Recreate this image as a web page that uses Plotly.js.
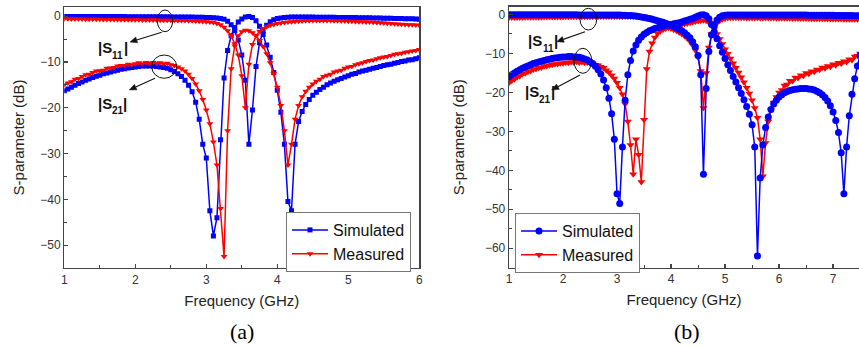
<!DOCTYPE html>
<html>
<head>
<meta charset="utf-8">
<script src="https://cdn.plot.ly/plotly-3.0.1.min.js"></script>
<style>html,body{margin:0;padding:0;background:#fff;overflow:hidden}#chart{width:859px;height:347px}</style>
</head>
<body>
<div id="chart"></div>
<script>
// ---------- Panel (a) data ----------
const freqA = [1,1.05,1.1,1.15,1.2,1.25,1.3,1.35,1.4,1.45,
1.5,1.55,1.6,1.65,1.7,1.75,1.8,1.85,1.9,1.95,
2,2.05,2.1,2.15,2.2,2.25,2.3,2.35,2.4,2.45,
2.5,2.55,2.6,2.65,2.7,2.75,2.8,2.85,2.9,2.95,
3,3.05,3.1,3.15,3.2,3.25,3.3,3.35,3.4,3.45,
3.5,3.55,3.6,3.65,3.7,3.75,3.8,3.85,3.9,3.95,
4,4.05,4.1,4.15,4.2,4.25,4.3,4.35,4.4,4.45,
4.5,4.55,4.6,4.65,4.7,4.75,4.8,4.85,4.9,4.95,
5,5.05,5.1,5.15,5.2,5.25,5.3,5.35,5.4,5.45,
5.5,5.55,5.6,5.65,5.7,5.75,5.8,5.85,5.9,5.95,
6];
const s11SimA = [-0.05,-0.05,-0.05,-0.06,-0.06,-0.06,-0.07,-0.07,-0.07,-0.08,
-0.08,-0.08,-0.09,-0.09,-0.09,-0.1,-0.1,-0.1,-0.11,-0.11,
-0.11,-0.12,-0.12,-0.12,-0.13,-0.13,-0.14,-0.14,-0.15,-0.15,
-0.16,-0.16,-0.17,-0.18,-0.19,-0.2,-0.21,-0.22,-0.24,-0.26,
-0.28,-0.31,-0.35,-0.4,-0.5,-0.7,-1.1,-1.9,-3.2,-5.2,
-8.5,-14,-28,-20.5,-11,-5.8,-3.4,-2,-1.2,-0.8,
-0.5,-0.4,-0.3,-0.25,-0.2,-0.2,-0.2,-0.2,-0.2,-0.21,
-0.21,-0.22,-0.22,-0.23,-0.24,-0.25,-0.26,-0.27,-0.28,-0.29,
-0.3,-0.31,-0.32,-0.33,-0.35,-0.36,-0.37,-0.39,-0.4,-0.42,
-0.43,-0.45,-0.47,-0.49,-0.51,-0.53,-0.55,-0.57,-0.59,-0.62,
-0.65];
const s21SimA = [-16.3,-15.9,-15.5,-15.1,-14.7,-14.4,-14.0,-13.7,-13.4,-13.1,
-12.9,-12.6,-12.4,-12.2,-12.0,-11.8,-11.6,-11.5,-11.3,-11.2,
-11.1,-11.0,-10.9,-10.9,-10.9,-10.9,-11.0,-11.1,-11.2,-11.4,
-11.7,-12.1,-12.6,-13.2,-14.0,-15.1,-16.5,-18.8,-22.5,-28,
-31,-42.5,-48,-44,-27,-13.5,-7.5,-4.3,-2.5,-1.3,
-0.6,-0.2,-0.1,-0.3,-1.0,-2.2,-4.0,-6.3,-9.0,-12.3,
-16.2,-21,-28,-40.5,-42.5,-28,-23,-20.8,-19.3,-18.2,
-17.3,-16.6,-16.0,-15.5,-15.0,-14.6,-14.2,-13.9,-13.6,-13.3,
-13.0,-12.7,-12.5,-12.2,-12.0,-11.8,-11.6,-11.4,-11.2,-11.0,
-10.8,-10.6,-10.5,-10.3,-10.1,-9.9,-9.8,-9.6,-9.5,-9.3,
-9.1];
const s11MeasA = [-0.55,-0.58,-0.6,-0.6,-0.62,-0.63,-0.65,-0.66,-0.67,-0.68,
-0.7,-0.71,-0.72,-0.73,-0.74,-0.75,-0.76,-0.77,-0.78,-0.79,
-0.8,-0.81,-0.82,-0.83,-0.84,-0.85,-0.86,-0.87,-0.88,-0.89,
-0.9,-0.91,-0.93,-0.95,-0.97,-1.0,-1.03,-1.07,-1.1,-1.15,
-1.2,-1.3,-1.4,-1.6,-1.9,-2.4,-3.2,-4.3,-6.0,-8.5,
-13,-20,-10.5,-6.2,-4.3,-3.3,-2.7,-2.3,-2.0,-1.8,
-1.6,-1.5,-1.4,-1.3,-1.2,-1.15,-1.1,-1.05,-1.0,-1.0,
-0.95,-0.95,-0.95,-0.95,-0.95,-0.97,-1.0,-1.02,-1.05,-1.08,
-1.1,-1.13,-1.16,-1.2,-1.23,-1.27,-1.3,-1.35,-1.4,-1.45,
-1.5,-1.55,-1.6,-1.65,-1.7,-1.75,-1.8,-1.85,-1.9,-1.95,
-2.0];
const s21MeasA = [-15.0,-14.6,-14.3,-13.8,-13.6,-13.2,-12.8,-12.7,-12.3,-12.0,
-11.9,-11.8,-11.4,-11.3,-11.2,-10.9,-10.8,-10.8,-10.5,-10.6,
-10.4,-10.2,-10.4,-10.1,-10.3,-10.1,-10.3,-10.2,-10.4,-10.3,
-10.6,-10.8,-11.1,-11.5,-12.0,-12.7,-13.6,-14.8,-16.3,-18.2,
-20.5,-23.5,-27.5,-32.5,-42,-52.5,-25,-11.5,-6.5,-4.3,
-3.4,-3.1,-3.2,-3.6,-4.3,-5.3,-6.6,-8.2,-10.2,-12.6,
-15.5,-19.5,-25,-32.5,-28,-22.5,-19.5,-17.6,-16.4,-15.5,
-14.8,-14.2,-13.8,-13.2,-12.9,-12.7,-12.2,-12.0,-11.8,-11.4,
-11.1,-11.0,-10.6,-10.4,-10.2,-9.9,-9.7,-9.6,-9.3,-9.1,
-8.9,-8.8,-8.6,-8.3,-8.2,-8.1,-7.9,-7.8,-7.6,-7.5,
-7.3];

// ---------- Panel (b) data ----------
const freqB = [1,1.05,1.1,1.15,1.2,1.25,1.3,1.35,1.4,1.45,
1.5,1.55,1.6,1.65,1.7,1.75,1.8,1.85,1.9,1.95,
2,2.05,2.1,2.15,2.2,2.25,2.3,2.35,2.4,2.45,
2.5,2.55,2.6,2.65,2.7,2.75,2.8,2.85,2.9,2.95,
3,3.05,3.1,3.15,3.2,3.25,3.3,3.35,3.4,3.45,
3.5,3.55,3.6,3.65,3.7,3.75,3.8,3.85,3.9,3.95,
4,4.05,4.1,4.15,4.2,4.25,4.3,4.35,4.4,4.45,
4.5,4.55,4.6,4.65,4.7,4.75,4.8,4.85,4.9,4.95,
5,5.05,5.1,5.15,5.2,5.25,5.3,5.35,5.4,5.45,
5.5,5.55,5.6,5.65,5.7,5.75,5.8,5.85,5.9,5.95,
6,6.05,6.1,6.15,6.2,6.25,6.3,6.35,6.4,6.45,
6.5,6.55,6.6,6.65,6.7,6.75,6.8,6.85,6.9,6.95,
7,7.05,7.1,7.15,7.2,7.25,7.3,7.35,7.4,7.45,
7.5];
const s11SimB = [-0.05,-0.05,-0.05,-0.05,-0.05,-0.05,-0.06,-0.06,-0.06,-0.06,
-0.06,-0.06,-0.07,-0.07,-0.07,-0.07,-0.07,-0.08,-0.08,-0.08,
-0.08,-0.08,-0.09,-0.09,-0.09,-0.09,-0.1,-0.1,-0.1,-0.1,
-0.1,-0.11,-0.11,-0.11,-0.12,-0.12,-0.12,-0.13,-0.13,-0.14,
-0.15,-0.16,-0.18,-0.2,-0.23,-0.27,-0.32,-0.4,-0.5,-0.62,
-0.75,-0.9,-1.05,-1.22,-1.4,-1.6,-1.8,-2.0,-2.25,-2.5,
-2.8,-3.1,-3.4,-3.8,-4.2,-4.7,-5.3,-6.0,-7.0,-8.3,
-10.5,-15.5,-41,-19,-9.5,-5.2,-2.8,-1.4,-0.7,-0.35,
-0.2,-0.12,-0.1,-0.1,-0.1,-0.1,-0.1,-0.1,-0.1,-0.1,
-0.1,-0.1,-0.1,-0.11,-0.11,-0.11,-0.11,-0.12,-0.12,-0.12,
-0.12,-0.13,-0.13,-0.13,-0.14,-0.14,-0.14,-0.15,-0.15,-0.16,
-0.16,-0.17,-0.17,-0.18,-0.18,-0.19,-0.2,-0.2,-0.21,-0.22,
-0.22,-0.23,-0.24,-0.25,-0.26,-0.27,-0.28,-0.29,-0.3,-0.31,
-0.32];
const s21SimB = [-16.0,-15.5,-15.0,-14.6,-14.2,-13.8,-13.5,-13.2,-12.9,-12.6,
-12.4,-12.2,-12.0,-11.8,-11.6,-11.5,-11.3,-11.2,-11.1,-11.0,
-10.9,-10.9,-10.8,-10.8,-10.9,-10.9,-11.0,-11.2,-11.4,-11.7,
-12.1,-12.6,-13.3,-14.2,-15.3,-16.8,-18.8,-21.5,-25.5,-32,
-46,-48.5,-34,-22,-15.5,-11.8,-9.4,-7.8,-6.6,-5.8,
-5.1,-4.6,-4.2,-3.9,-3.6,-3.4,-3.2,-3.0,-2.85,-2.7,
-2.55,-2.4,-2.25,-2.1,-1.9,-1.7,-1.5,-1.25,-1.0,-0.7,
-0.4,-0.15,-0.05,-0.3,-1.1,-2.6,-4.4,-6.2,-8.0,-9.7,
-11.3,-12.9,-14.4,-15.9,-17.3,-18.8,-20.3,-21.9,-23.6,-25.6,
-28.3,-34,-62,-42,-33.5,-29,-26.3,-24.4,-23.0,-22.0,
-21.2,-20.6,-20.1,-19.8,-19.5,-19.3,-19.2,-19.1,-19.0,-19.0,
-19.0,-19.1,-19.2,-19.4,-19.7,-20.1,-20.6,-21.3,-22.2,-23.4,
-25.0,-27.2,-30.3,-35.5,-46,-34,-26,-20.5,-16.5,-13.2,
-10.5];
const s11MeasB = [-0.8,-0.78,-0.8,-0.76,-0.75,-0.77,-0.74,-0.72,-0.73,-0.7,
-0.7,-0.68,-0.69,-0.66,-0.67,-0.65,-0.64,-0.65,-0.62,-0.63,
-0.62,-0.6,-0.61,-0.6,-0.58,-0.59,-0.57,-0.58,-0.56,-0.56,
-0.55,-0.56,-0.54,-0.55,-0.53,-0.54,-0.52,-0.53,-0.52,-0.51,
-0.52,-0.5,-0.51,-0.5,-0.5,-0.49,-0.5,-0.49,-0.5,-0.5,
-0.5,-0.6,-0.8,-1.1,-1.4,-1.8,-2.2,-2.6,-3.0,-3.3,
-3.6,-3.9,-4.2,-4.6,-5.0,-5.5,-6.1,-6.9,-7.9,-9.2,
-11.0,-14.5,-24,-15,-8.5,-5,-3.2,-2.2,-1.6,-1.2,
-1.0,-0.9,-0.85,-0.85,-0.85,-0.85,-0.86,-0.86,-0.87,-0.87,
-0.88,-0.88,-0.89,-0.9,-0.9,-0.91,-0.92,-0.92,-0.93,-0.94,
-0.95,-0.96,-0.97,-0.98,-0.99,-1.0,-1.01,-1.02,-1.03,-1.04,
-1.05,-1.06,-1.07,-1.08,-1.09,-1.1,-1.11,-1.12,-1.13,-1.14,
-1.15,-1.16,-1.17,-1.18,-1.19,-1.2,-1.21,-1.22,-1.23,-1.24,
-1.25];
const s21MeasB = [-17.5,-17.0,-16.6,-16.1,-15.8,-15.3,-15.1,-14.7,-14.5,-14.1,
-14.0,-13.7,-13.6,-13.3,-13.2,-13.0,-12.9,-12.7,-12.7,-12.5,
-12.5,-12.3,-12.4,-12.2,-12.3,-12.1,-12.3,-12.2,-12.4,-12.3,
-12.5,-12.6,-12.9,-13.0,-13.4,-13.7,-14.3,-14.8,-15.6,-16.4,
-17.5,-18.8,-20.5,-23.0,-27.5,-33.5,-41,-32,-36,-43,
-27,-14,-9.5,-7.4,-5.9,-4.9,-4.3,-3.9,-3.6,-3.4,
-3.2,-3.0,-2.9,-2.7,-2.6,-2.4,-2.3,-2.1,-2.0,-1.8,
-1.7,-1.6,-1.5,-1.6,-2.0,-2.8,-3.8,-5.0,-6.3,-7.6,
-8.9,-10.1,-11.3,-12.5,-13.7,-14.9,-16.1,-17.4,-18.8,-20.3,
-22.0,-24.0,-26.5,-32,-41.5,-33,-27.5,-24.5,-22.6,-21.2,
-20.0,-19.4,-18.2,-18.0,-17.0,-17.1,-16.2,-16.3,-15.6,-15.7,
-15.0,-15.2,-14.6,-14.7,-14.1,-14.2,-13.6,-13.8,-13.2,-13.4,
-12.8,-13.0,-12.4,-12.6,-12.0,-12.2,-11.5,-11.7,-10.8,-10.6,
-10.0];

const legendNames = ['Simulated', 'Measured'];
const axisTitles = {x: 'Frequency (GHz)', y: 'S-parameter (dB)'};
const panelLabels = ['(a)', '(b)'];
const paramSubs = ['11', '21'];

const BLUE = '#0000ff', RED = '#ff0000';
const W = 859, H = 347;
const px = v => v / W;
const py = v => 1 - v / H;

function tr(x, y, color, sym, size, xa, ya, name, show, leg, rank) {
  return {x: x, y: y, type: 'scatter', mode: 'lines+markers', name: name,
    showlegend: show, legend: leg, legendrank: rank, xaxis: xa, yaxis: ya,
    line: {color: color, width: 1.5},
    marker: {symbol: sym, size: size, color: color, line: {width: 0}}};
}

const data = [
  tr(freqA, s11SimA, BLUE, 'square', 5, 'x', 'y', legendNames[0], true, 'legend', 1),
  tr(freqA, s21SimA, BLUE, 'square', 5, 'x', 'y', legendNames[0], false, 'legend', 1),
  tr(freqA, s11MeasA, RED, 'triangle-down', 6, 'x', 'y', legendNames[1], true, 'legend', 2),
  tr(freqA, s21MeasA, RED, 'triangle-down', 6, 'x', 'y', legendNames[1], false, 'legend', 2),
  tr(freqB, s11MeasB, RED, 'triangle-down', 7, 'x2', 'y2', legendNames[1], true, 'legend2', 2),
  tr(freqB, s21MeasB, RED, 'triangle-down', 7, 'x2', 'y2', legendNames[1], false, 'legend2', 2),
  tr(freqB, s11SimB, BLUE, 'circle', 7, 'x2', 'y2', legendNames[0], true, 'legend2', 1),
  tr(freqB, s21SimB, BLUE, 'circle', 7, 'x2', 'y2', legendNames[0], false, 'legend2', 1)
];

const tickFont = {family: 'Liberation Sans, Arial, sans-serif', size: 12, color: '#333'};
const titleFont = {family: 'Liberation Sans, Arial, sans-serif', size: 15, color: '#222'};
function xAxis(domain, range, anchor) {
  return {domain: domain, range: range, anchor: anchor, dtick: 1, tick0: 1,
    showline: true, linecolor: '#444', linewidth: 1.3, mirror: true,
    ticks: 'inside', ticklen: 4, tickcolor: '#444', tickwidth: 1.2,
    minor: {ticks: 'inside', ticklen: 3, dtick: 0.5, tickcolor: '#444', tickwidth: 1},
    showgrid: false, zeroline: false, tickfont: tickFont,
    title: {text: axisTitles.x, font: titleFont, standoff: 9}};
}
function yAxis(domain, range, anchor, mirror, standoff) {
  return {domain: domain, range: range, anchor: anchor, dtick: 10, tick0: 0,
    showline: true, linecolor: '#444', linewidth: 1.3, mirror: mirror,
    ticks: 'inside', ticklen: 4, tickcolor: '#444', tickwidth: 1.2,
    minor: {ticks: 'inside', ticklen: 3, dtick: 5, tickcolor: '#444', tickwidth: 1},
    showgrid: false, zeroline: false, tickfont: tickFont,
    title: {text: axisTitles.y, font: titleFont, standoff: standoff}};
}

const legFont = {family: 'Liberation Sans, Arial, sans-serif', size: 16, color: '#111'};
const SANS = 'Liberation Sans, Arial, sans-serif';

function piece(txt, x, yc, size) {
  return {text: '<b>' + txt + '</b>', x: px(x), y: py(yc), xref: 'paper', yref: 'paper',
    showarrow: false, font: {family: SANS, size: size, color: '#111'},
    xanchor: 'left', yanchor: 'middle', borderpad: 0, borderwidth: 0};
}
// |S_xy| label built from three text pieces (main, lowered subscript, closing bar)
function sLabel(sub, x, yc) {
  return [piece('|S', x, yc, 15), piece(sub, x + 14.3, yc + 7.5, 10), piece('|', x + 25.6, yc, 15)];
}
// arrow drawn as a line shape plus a filled head (tail at circle, head at label)
function arrowShapes(hx, hy, tx, ty) {
  const dx = hx - tx, dy = hy - ty, len = Math.hypot(dx, dy);
  const ux = dx / len, uy = dy / len, L = 7, w = 3;
  const bx = hx - ux * L, by = hy - uy * L;
  const p1 = [bx - uy * w, by + ux * w], p2 = [bx + uy * w, by - ux * w];
  return [
    {type: 'line', xref: 'paper', yref: 'paper', x0: px(tx), y0: py(ty), x1: px(bx), y1: py(by),
      line: {color: '#111', width: 1.1}},
    {type: 'path', xref: 'paper', yref: 'paper',
      path: 'M' + px(hx) + ',' + py(hy) + ' L' + px(p1[0]) + ',' + py(p1[1]) + ' L' + px(p2[0]) + ',' + py(p2[1]) + ' Z',
      fillcolor: '#111', line: {color: '#111', width: 0.5}}
  ];
}
function ring(x0, x1, y0, y1) {
  return {type: 'circle', xref: 'paper', yref: 'paper', x0: px(x0), x1: px(x1),
    y0: py(y1), y1: py(y0), line: {color: '#111', width: 1}};
}

const legendBase = {xanchor: 'left', yanchor: 'top', bordercolor: '#777', borderwidth: 1,
  bgcolor: '#fff', font: legFont, traceorder: 'normal', tracegroupgap: 0, itemwidth: 36};

const serif = {family: 'Liberation Serif, Times New Roman, serif', size: 22, color: '#000'};

const layout = {
  width: W, height: H, margin: {l: 0, r: 0, t: 0, b: 0},
  paper_bgcolor: '#fff', plot_bgcolor: '#fff',
  xaxis: xAxis([px(64.3), px(419.3)], [1, 6], 'y'),
  yaxis: yAxis([py(268), py(7)], [-55, 2], 'x', true, 12),
  xaxis2: xAxis([px(509), 1], [1, 7.48], 'y2'),
  yaxis2: yAxis([py(267.7), py(6.7)], [-65, 2], 'x2', false, 16),
  legend: Object.assign({}, legendBase, {x: px(286), y: py(212)}),
  legend2: Object.assign({}, legendBase, {x: px(515), y: py(213)}),
  shapes: [
    ring(157.3, 172.7, 10, 31.7), ring(151.7, 176.7, 55, 78.3),
    ring(580, 596.7, 8.3, 30), ring(574, 591.7, 48.3, 73.3)
  ].concat(arrowShapes(130, 42, 161.7, 32.3), arrowShapes(129.3, 90, 155, 78.3),
           arrowShapes(556.7, 41.7, 585, 31.7), arrowShapes(551.7, 90, 580, 75)),
  annotations: [].concat(
    sLabel(paramSubs[0], 98, 47.5), sLabel(paramSubs[1], 97.5, 103),
    sLabel(paramSubs[0], 528.3, 41), sLabel(paramSubs[1], 525, 91.7),
    [{text: panelLabels[0], x: px(242), y: py(331), xref: 'paper', yref: 'paper', showarrow: false,
      font: serif, xanchor: 'center', yanchor: 'middle'},
     {text: panelLabels[1], x: px(687), y: py(331), xref: 'paper', yref: 'paper', showarrow: false,
      font: serif, xanchor: 'center', yanchor: 'middle'}])
};

Plotly.newPlot('chart', data, layout, {staticPlot: true, displayModeBar: false});
</script>
</body>
</html>
